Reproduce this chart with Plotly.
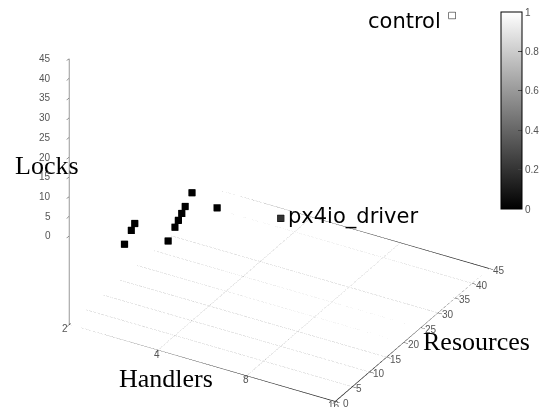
import math
import plotly.graph_objects as go

# ---- data ----
handlers = [3, 3, 3, 4, 4, 4, 4, 4, 4, 5, 8, 13]
resources = [1, 3, 4, 3, 5, 6, 7, 8, 10, 9, 10, 42]
locks = [1, 3, 4, 3, 5, 6, 7, 8, 10, 9, 10, 42]
shade = [0, 0, 0, 0, 0, 0, 0, 0, 0, 0, 0.2, 1]
names = ["", "", "", "", "", "", "", "", "", "", "px4io_driver", "control"]

x_ticks = [2, 4, 8, 16]
y_ticks = [0, 5, 10, 15, 20, 25, 30, 35, 40, 45]
z_ticks = [0, 5, 10, 15, 20, 25, 30, 35, 40, 45]
cb_ticks = [0, 0.2, 0.4, 0.6, 0.8, 1]

x_range = [2, 16]
y_range = [0, 45]
z_range = [0, 45]
ticslevel = 0.5
z_base = z_range[0] - ticslevel * (z_range[1] - z_range[0])

W, H = 544, 407


def px(sx):
    return sx / W


def py(sy):
    return 1 - sy / H


fig = go.Figure()

# base grid (dotted) on the floor
for yv in y_ticks[1:-1]:
    fig.add_trace(go.Scatter3d(x=x_range, y=[yv, yv], z=[z_base, z_base], mode="lines",
                               line=dict(color="#9a9a9a", width=1, dash="dot"),
                               hoverinfo="skip", showlegend=False))
for xv in x_ticks[1:-1]:
    fig.add_trace(go.Scatter3d(x=[xv, xv], y=y_range, z=[z_base, z_base], mode="lines",
                               line=dict(color="#9a9a9a", width=1, dash="dot"),
                               hoverinfo="skip", showlegend=False))
# base frame
fig.add_trace(go.Scatter3d(
    x=[x_range[0], x_range[1], x_range[1], x_range[0], x_range[0]],
    y=[y_range[0], y_range[0], y_range[1], y_range[1], y_range[0]],
    z=[z_base] * 5, mode="lines", line=dict(color="#222222", width=1.5),
    hoverinfo="skip", showlegend=False))

# points
fig.add_trace(go.Scatter3d(
    x=handlers, y=resources, z=locks, mode="markers",
    marker=dict(symbol="square", size=3.5, color=shade, cmin=0, cmax=1,
                colorscale=[[0, "black"], [1, "white"]],
                line=dict(color="black", width=1),
                colorbar=dict(x=px(501), xanchor="left", xpad=0, ypad=0,
                              y=py(12), yanchor="top", lenmode="pixels", len=197,
                              thickness=21, outlinecolor="black", outlinewidth=1,
                              tickvals=cb_ticks, ticks="inside", ticklen=4,
                              tickcolor="#444", tickfont=dict(family="Liberation Sans", size=10, color="#555"))),
    hoverinfo="skip", showlegend=False))

label_font = dict(family="DejaVu Sans", size=21, color="black")
tick_font = dict(family="Liberation Sans", size=10, color="#555")
scene_annotations = []
for hx, ry, lz, nm in zip(handlers, resources, locks, names):
    if nm:
        left = nm == "control"
        scene_annotations.append(dict(x=math.log10(hx), y=ry, z=lz, text=nm, showarrow=False,
                                      font=label_font,
                                      xanchor="right" if left else "left", yanchor="middle",
                                      xshift=-9 if left else 5, yshift=-6 if left else 2))

# tick labels, gnuplot style (placed through the scene's own axes)
lx0, lx1 = math.log10(x_range[0]), math.log10(x_range[1])
for t in x_ticks:
    scene_annotations.append(dict(x=math.log10(t), y=y_range[0], z=z_base, text=str(t), showarrow=False,
                                  font=tick_font, xanchor="center", yanchor="middle",
                                  xshift=-4 if t == x_ticks[0] else -1, yshift=-4))
for t in y_ticks:
    scene_annotations.append(dict(x=lx1, y=t, z=z_base, text=str(t), showarrow=False,
                                  font=tick_font, xanchor="left", yanchor="middle",
                                  xshift=2 if t else 6, yshift=-2))
for t in z_ticks:
    scene_annotations.append(dict(x=lx0, y=y_range[0], z=t, text=str(t), showarrow=False,
                                  font=tick_font, xanchor="right", yanchor="middle", xshift=-16))

axis_common = dict(showgrid=False, zeroline=False, showbackground=False, showspikes=False,
                   ticks="inside", ticklen=5, tickcolor="#333", showticklabels=False, title_text="")

# gnuplot "view 60,30" direction, orthographic
view_dir = (0.433, -0.75, 0.5)
center = (0.0194, -0.1023, -0.1703)
eye = tuple(c + 2 * d for c, d in zip(center, view_dir))

a = 1.51
fig.update_layout(
    width=W, height=H, margin=dict(l=0, r=0, t=0, b=0),
    paper_bgcolor="white",
    scene=dict(
        domain=dict(x=[0, 1], y=[0, 1]),
        aspectmode="manual", aspectratio=dict(x=a, y=a, z=a),
        camera=dict(eye=dict(x=eye[0], y=eye[1], z=eye[2]), up=dict(x=0, y=0, z=1),
                    center=dict(x=center[0], y=center[1], z=center[2]),
                    projection=dict(type="orthographic")),
        xaxis=dict(type="log", range=[lx0, lx1], tickvals=x_ticks, showline=False, **axis_common),
        yaxis=dict(range=y_range, tickvals=y_ticks, showline=False, **axis_common),
        zaxis=dict(range=[z_base, z_range[1]], tickvals=z_ticks,
                   showline=True, linecolor="#333", linewidth=1, **axis_common),
        annotations=scene_annotations,
    ),
)

title_font = dict(family="Liberation Serif", size=26, color="black")
for txt, sx, sy in [("Locks", 47, 166), ("Handlers", 166, 378), ("Resources", 476, 341)]:
    fig.add_annotation(text=txt, x=px(sx), y=py(sy), xref="paper", yref="paper",
                       showarrow=False, font=title_font, xanchor="center", yanchor="middle")

fig.write_html("out.html", config={"displayModeBar": False},
               post_script="document.body.style.margin='0';")
